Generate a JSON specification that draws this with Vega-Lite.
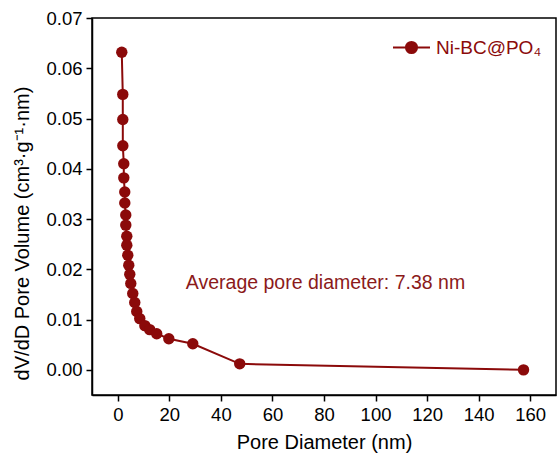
{
  "$schema": "https://vega.github.io/schema/vega-lite/v6.json",
  "autosize": "none",
  "width": 464,
  "height": 377,
  "padding": {"left": 92, "top": 18, "right": 1, "bottom": 70},
  "background": "white",
  "config": {
    "font": "Liberation Sans",
    "view": {"stroke": "black", "strokeWidth": 1.5},
    "axis": {
      "grid": false,
      "domainColor": "black",
      "domainWidth": 1.5,
      "tickColor": "black",
      "tickWidth": 1.5,
      "tickSize": 6,
      "labelFont": "Liberation Sans",
      "labelFontSize": 18.5,
      "labelColor": "black",
      "titleFont": "Liberation Sans",
      "titleFontSize": 20,
      "titleFontWeight": "normal",
      "titleColor": "black",
      "labelPadding": 4
    }
  },
  "datasets": {
    "pores": [
      {"d": 1.55, "v": 0.0632, "s": "Ni-BC@PO₄"},
      {"d": 1.94, "v": 0.0548, "s": "Ni-BC@PO₄"},
      {"d": 1.95, "v": 0.0498, "s": "Ni-BC@PO₄"},
      {"d": 1.96, "v": 0.0446, "s": "Ni-BC@PO₄"},
      {"d": 2.33, "v": 0.041, "s": "Ni-BC@PO₄"},
      {"d": 2.34, "v": 0.0382, "s": "Ni-BC@PO₄"},
      {"d": 2.71, "v": 0.0354, "s": "Ni-BC@PO₄"},
      {"d": 2.72, "v": 0.0332, "s": "Ni-BC@PO₄"},
      {"d": 3.1, "v": 0.0308, "s": "Ni-BC@PO₄"},
      {"d": 3.11, "v": 0.0288, "s": "Ni-BC@PO₄"},
      {"d": 3.49, "v": 0.0266, "s": "Ni-BC@PO₄"},
      {"d": 3.5, "v": 0.0248, "s": "Ni-BC@PO₄"},
      {"d": 3.88, "v": 0.0228, "s": "Ni-BC@PO₄"},
      {"d": 4.26, "v": 0.0208, "s": "Ni-BC@PO₄"},
      {"d": 4.65, "v": 0.019, "s": "Ni-BC@PO₄"},
      {"d": 5.04, "v": 0.0172, "s": "Ni-BC@PO₄"},
      {"d": 5.81, "v": 0.0152, "s": "Ni-BC@PO₄"},
      {"d": 6.59, "v": 0.0134, "s": "Ni-BC@PO₄"},
      {"d": 7.36, "v": 0.0116, "s": "Ni-BC@PO₄"},
      {"d": 8.53, "v": 0.0102, "s": "Ni-BC@PO₄"},
      {"d": 10.5, "v": 0.0088, "s": "Ni-BC@PO₄"},
      {"d": 12.4, "v": 0.008, "s": "Ni-BC@PO₄"},
      {"d": 15.1, "v": 0.0072, "s": "Ni-BC@PO₄"},
      {"d": 19.8, "v": 0.0062, "s": "Ni-BC@PO₄"},
      {"d": 29.1, "v": 0.0052, "s": "Ni-BC@PO₄"},
      {"d": 47.3, "v": 0.0012, "s": "Ni-BC@PO₄"},
      {"d": 157.4, "v": 0.0, "s": "Ni-BC@PO₄"}
    ],
    "note": [
      {"d": 26.4, "v": 0.0172, "label": "Average pore diameter: 7.38 nm"}
    ]
  },
  "layer": [
    {
      "data": {"name": "pores"},
      "mark": {
        "type": "line",
        "strokeWidth": 2,
        "point": {"filled": true, "size": 130, "color": "#8b0a0a"}
      },
      "encoding": {
        "x": {
          "field": "d",
          "type": "quantitative",
          "title": "Pore Diameter (nm)",
          "scale": {"domain": [-10, 170], "nice": false, "zero": false},
          "axis": {"values": [0, 20, 40, 60, 80, 100, 120, 140, 160], "titlePadding": 9}
        },
        "y": {
          "field": "v",
          "type": "quantitative",
          "title": "dV/dD Pore Volume (cm³·g⁻¹·nm)",
          "scale": {"domain": [-0.005, 0.07], "nice": false, "zero": false},
          "axis": {"values": [0, 0.01, 0.02, 0.03, 0.04, 0.05, 0.06, 0.07], "format": ".2f", "titlePadding": 13, "titleY": 215}
        },
        "color": {
          "field": "s",
          "type": "nominal",
          "scale": {"range": ["#8b0a0a"]},
          "legend": {
            "title": null,
            "orient": "none",
            "legendX": 300,
            "legendY": 10,
            "labelFontSize": 19,
            "labelColor": "#8b0a0a",
            "labelFont": "Liberation Sans",
            "labelOffset": 5,
            "symbolSize": 1369,
            "symbolStrokeWidth": 2,
            "symbolType": "M-1,0L-0.3,0M0.3,0L1,0M0.3,0A0.3,0.3 0 1,1 -0.3,0A0.3,0.3 0 1,1 0.3,0Z",
            "symbolFillColor": "#8b0a0a",
            "symbolStrokeColor": "#8b0a0a",
            "encode": {
              "symbols": {
                "update": {
                  "fill": {"value": "#8b0a0a"},
                  "stroke": {"value": "#8b0a0a"},
                  "strokeWidth": {"value": 2},
                  "opacity": {"value": 1}
                }
              }
            }
          }
        }
      }
    },
    {
      "data": {"name": "note"},
      "mark": {"type": "text", "align": "left", "baseline": "middle", "fontSize": 19.5, "color": "#8b1a1a", "font": "Liberation Sans"},
      "encoding": {
        "x": {"field": "d", "type": "quantitative"},
        "y": {"field": "v", "type": "quantitative"},
        "text": {"field": "label"}
      }
    }
  ]
}
